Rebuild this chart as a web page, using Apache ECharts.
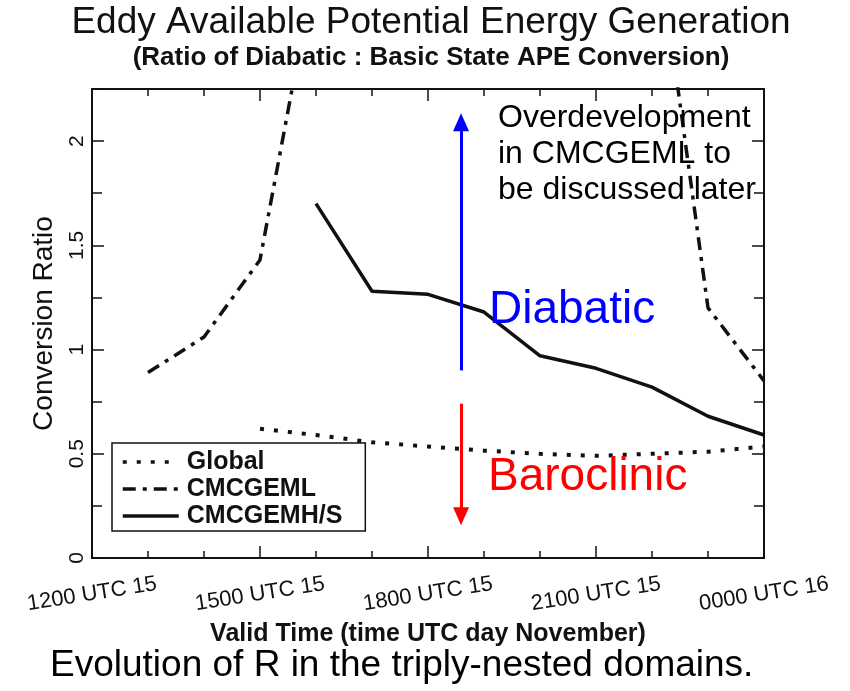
<!DOCTYPE html>
<html><head><meta charset="utf-8">
<script src="https://cdn.jsdelivr.net/npm/echarts@6/dist/echarts.min.js"></script>
<style>html,body{margin:0;padding:0;background:#fff}#c{width:850px;height:691px}</style>
</head><body><div id="c"></div>
<script>
// ---- data ----
const xTickHours = [12, 15, 18, 21, 24];
const xTickLabels = ['1200 UTC 15', '1500 UTC 15', '1800 UTC 15', '2100 UTC 15', '0000 UTC 16'];
const yTickValues = [0, 0.5, 1, 1.5, 2];
const yTickLabels = ['0', '0.5', '1', '1.5', '2'];
const seriesNames = ['Global', 'CMCGEML', 'CMCGEMH/S'];
const globalHours = [15, 16, 17, 18, 19, 20, 21, 22, 23, 24];
const globalValues = [0.62, 0.59, 0.555, 0.535, 0.515, 0.50, 0.49, 0.50, 0.51, 0.535];
const gemlHours = [13, 14, 15, 16, 17, 18, 19, 20, 21, 22, 23, 24];
const gemlValues = [0.89, 1.06, 1.43, 2.86, null, null, null, null, null, 3.16, 1.20, 0.85];
const gemhHours = [16, 17, 18, 19, 20, 21, 22, 23, 24];
const gemhValues = [1.70, 1.28, 1.265, 1.18, 0.97, 0.91, 0.82, 0.68, 0.59];
const arrowHour = 18.59;
const diabaticArrow = [0.90, 2.09];
const baroclinicArrow = [0.74, 0.20];

const FONT = '"Liberation Sans", Arial, Helvetica, sans-serif';
const pairs = (xs, ys) => xs.map((x, i) => [x, ys[i]]);
const xFmt = v => { const i = xTickHours.indexOf(v); return i >= 0 ? xTickLabels[i] : ''; };
const yFmt = v => { const i = yTickValues.findIndex(t => Math.abs(t - v) < 1e-9); return i >= 0 ? yTickLabels[i] : ''; };

const axisLine = { show: true, onZero: false, lineStyle: { color: '#111', width: 2 } };

function xAxisCfg(pos, labels) {
  return {
    type: 'value', position: pos, min: 12, max: 24, interval: 3,
    axisLine: axisLine,
    axisTick: { show: true, inside: true, length: 12, lineStyle: { color: '#111', width: 1.5 } },
    minorTick: { show: true, splitNumber: 3, length: 7, lineStyle: { color: '#111', width: 1.5 } },
    splitLine: { show: false }, minorSplitLine: { show: false },
    axisLabel: labels ? {
      show: true, formatter: xFmt, rotate: 9, align: 'center', verticalAlign: 'middle', margin: 36,
      fontFamily: FONT, fontSize: 22, color: '#111', showMinLabel: true, showMaxLabel: true, hideOverlap: false
    } : { show: false },
    name: labels ? 'Valid Time (time UTC day November)' : '',
    nameLocation: 'middle', nameGap: 64,
    nameTextStyle: { fontFamily: FONT, fontSize: 25, fontWeight: 'bold', color: '#111' }
  };
}
function yAxisCfg(pos, labels) {
  return {
    type: 'value', position: pos, min: 0, max: 2.25, interval: 0.5,
    axisLine: axisLine,
    axisTick: { show: true, inside: true, length: 12, lineStyle: { color: '#111', width: 1.5 } },
    minorTick: { show: true, splitNumber: 2, length: 10, lineStyle: { color: '#111', width: 1.5 } },
    splitLine: { show: false }, minorSplitLine: { show: false },
    axisLabel: labels ? {
      show: true, formatter: yFmt, rotate: 90, align: 'center', verticalAlign: 'middle', margin: 15,
      fontFamily: FONT, fontSize: 21, color: '#111', showMinLabel: true, showMaxLabel: true
    } : { show: false },
    name: labels ? 'Conversion Ratio' : '',
    nameLocation: 'middle', nameRotate: 90, nameGap: 28,
    nameTextStyle: { fontFamily: FONT, fontSize: 28, color: '#111' }
  };
}

const chart = echarts.init(document.getElementById('c'), null, { renderer: 'canvas' });
chart.setOption({
  animation: false,
  backgroundColor: '#fff',
  grid: { left: 92, right: 86, top: 89, bottom: 133, containLabel: false, outerBoundsMode: 'none' },
  xAxis: [xAxisCfg('bottom', true), xAxisCfg('top', false)],
  yAxis: [yAxisCfg('left', true), yAxisCfg('right', false)],
  legend: {
    orient: 'vertical', left: 112, top: 443,
    padding: [6, 23, 2, 9], itemGap: 1, itemWidth: 56, itemHeight: 14,
    borderColor: '#111', borderWidth: 1.5, backgroundColor: '#fff',
    itemStyle: { opacity: 0 },
    lineStyle: { width: 3.5 },
    textStyle: { fontFamily: FONT, fontSize: 25, fontWeight: 'bold', color: '#111', lineHeight: 26, padding: [0, 0, 0, 3] },
    data: seriesNames, selectedMode: false
  },
  series: [
    {
      name: seriesNames[0], type: 'line', data: pairs(globalHours, globalValues),
      symbol: 'none', color: '#111',
      lineStyle: { color: '#111', width: 4, type: [4, 10], cap: 'butt' },
      markLine: {
        silent: true, symbol: ['none', 'triangle'], symbolSize: [16, 18],
        label: { show: false }, emphasis: { disabled: true },
        data: [
          [{ coord: [arrowHour, diabaticArrow[0]], lineStyle: { color: '#0000ff', width: 3, type: 'solid' }, itemStyle: { color: '#0000ff' } },
           { coord: [arrowHour, diabaticArrow[1]] }],
          [{ coord: [arrowHour, baroclinicArrow[0]], lineStyle: { color: '#ff0000', width: 3, type: 'solid' }, itemStyle: { color: '#ff0000' } },
           { coord: [arrowHour, baroclinicArrow[1]] }]
        ]
      }
    },
    {
      name: seriesNames[1], type: 'line', data: pairs(gemlHours, gemlValues),
      symbol: 'none', connectNulls: false, color: '#111',
      lineStyle: { color: '#111', width: 3.5, type: [13, 7, 4, 7], cap: 'butt' }
    },
    {
      name: seriesNames[2], type: 'line', data: pairs(gemhHours, gemhValues),
      symbol: 'none', color: '#111',
      lineStyle: { color: '#111', width: 3.5, type: 'solid' }
    }
  ],
  graphic: [
    { type: 'text', x: 431, y: 23, z: 10, style: { text: 'Eddy Available Potential Energy Generation', font: '37px ' + FONT, fill: '#111', textAlign: 'center', textVerticalAlign: 'middle' } },
    { type: 'text', x: 431, y: 58, z: 10, style: { text: '(Ratio of Diabatic : Basic State APE Conversion)', font: 'bold 26px ' + FONT, fill: '#111', textAlign: 'center', textVerticalAlign: 'middle' } },
    { type: 'text', x: 498, y: 100, z: 10, style: { text: 'Overdevelopment\nin CMCGEML to\nbe discussed later', font: '32px ' + FONT, lineHeight: 36, fill: '#000', textAlign: 'left', textVerticalAlign: 'top' } },
    { type: 'text', x: 489, y: 310, z: 10, style: { text: 'Diabatic', font: '46px ' + FONT, fill: '#0000ff', textAlign: 'left', textVerticalAlign: 'middle' } },
    { type: 'text', x: 488, y: 477, z: 10, style: { text: 'Baroclinic', font: '46px ' + FONT, fill: '#ff0000', textAlign: 'left', textVerticalAlign: 'middle' } },
    { type: 'text', x: 50, y: 666, z: 10, style: { text: 'Evolution of R in the triply-nested domains.', font: '37px ' + FONT, fill: '#000', textAlign: 'left', textVerticalAlign: 'middle' } }
  ]
});
</script>
</body></html>
